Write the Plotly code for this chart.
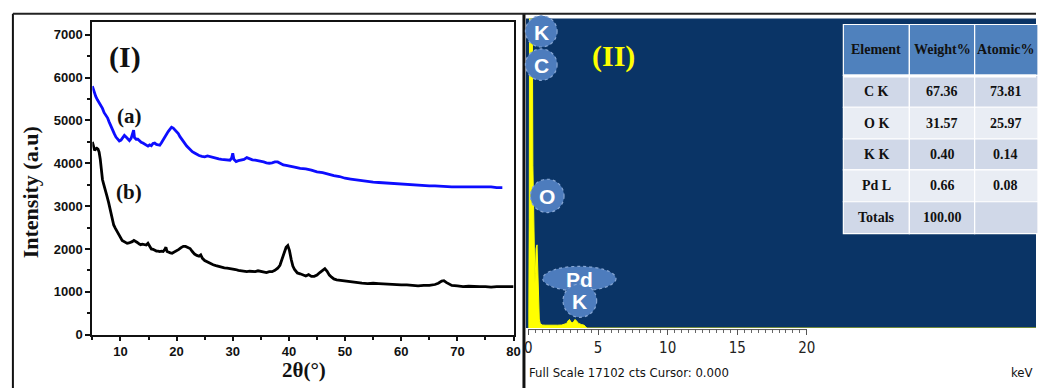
import plotly.graph_objects as go

W, H = 1043, 388

# ---------------- XRD data (panel I) ----------------
two_theta_a = [5.0, 5.3, 5.6, 5.9, 6.2, 6.5, 6.8, 7.1, 7.4, 7.7, 8.0, 8.3, 8.6, 8.9, 9.2, 9.5, 9.8,
               10.1, 10.4, 10.7, 11.0, 11.3, 11.6, 11.9, 12.2, 12.35, 12.5, 12.8, 13.1, 13.4, 13.7,
               14.0, 14.3, 14.6, 14.9, 15.2, 15.5, 15.8, 16.1, 16.4, 16.7, 17.0, 17.3, 17.6, 17.9,
               18.2, 18.5, 18.8, 19.1, 19.4, 19.7, 20.0, 20.3, 20.6, 20.9, 21.2, 21.5, 21.8, 22.1,
               22.4, 22.8, 23.2, 23.6, 24.0, 24.5, 25.0, 25.5, 26.0, 26.5, 27.0, 27.5, 28.0, 28.5,
               29.0, 29.5, 29.8, 30.0, 30.2, 30.6, 31.0, 31.5, 32.0, 32.5, 33.0, 33.5, 34.0, 34.5,
               35.0, 35.5, 36.0, 36.5, 37.0, 37.5, 38.0, 38.5, 39.0, 39.5, 40.0, 41.0, 42.0, 43.0,
               44.0, 45.0, 46.0, 47.0, 48.0, 49.0, 50.0, 51.0, 52.0, 53.0, 54.0, 55.0, 56.0, 57.0,
               58.0, 59.0, 60.0, 61.0, 62.0, 63.0, 64.0, 65.0, 66.0, 67.0, 68.0, 69.0, 70.0, 71.0,
               72.0, 73.0, 74.0, 75.0, 76.0, 77.0, 78.0]
intensity_a = [5800, 5650, 5560, 5480, 5420, 5340, 5280, 5180, 5120, 5060, 4960, 4860, 4760, 4690,
               4610, 4560, 4520, 4540, 4590, 4650, 4610, 4560, 4530, 4580, 4720, 4770, 4600, 4560,
               4560, 4520, 4490, 4470, 4440, 4410, 4400, 4430, 4410, 4460, 4470, 4440, 4430, 4420,
               4480, 4550, 4610, 4680, 4740, 4790, 4840, 4820, 4780, 4740, 4690, 4620, 4560, 4520,
               4470, 4400, 4360, 4320, 4270, 4240, 4200, 4180, 4160, 4150, 4170, 4150, 4140, 4120,
               4100, 4090, 4080, 4080, 4070, 4120, 4230, 4090, 4040, 4060, 4080, 4090, 4130, 4100,
               4080, 4070, 4060, 4040, 4030, 4010, 4000, 4010, 4030, 4030, 4000, 3960, 3950, 3940,
               3910, 3880, 3870, 3840, 3800, 3780, 3740, 3710, 3690, 3650, 3630, 3610, 3600, 3580,
               3560, 3550, 3540, 3530, 3520, 3510, 3500, 3490, 3480, 3480, 3470, 3470, 3460, 3460,
               3450, 3450, 3450, 3440, 3450, 3440, 3440, 3450, 3430, 3430]

two_theta_b = [5.0, 5.2, 5.4, 5.6, 5.8, 6.0, 6.2, 6.4, 6.6, 6.8, 7.0, 7.3, 7.6, 7.9, 8.2, 8.5, 8.8,
               9.1, 9.4, 9.7, 10.0, 10.3, 10.6, 10.9, 11.2, 11.5, 11.8, 12.1, 12.4, 12.7, 13.0, 13.3,
               13.6, 13.9, 14.2, 14.6, 14.9, 15.2, 15.5, 15.8, 16.1, 16.4, 16.7, 17.0, 17.3, 17.6,
               17.9, 18.1, 18.3, 18.6, 18.9, 19.2, 19.5, 19.8, 20.1, 20.4, 20.8, 21.2, 21.6, 22.0,
               22.4, 22.8, 23.2, 23.6, 24.0, 24.3, 24.6, 25.0, 25.5, 26.0, 26.5, 27.0, 27.5, 28.0,
               28.5, 29.0, 29.5, 30.0, 30.5, 31.0, 31.5, 32.0, 32.5, 33.0, 33.5, 34.0, 34.5, 35.0,
               35.5, 36.0, 36.5, 37.0, 37.5, 38.0, 38.4, 38.8, 39.2, 39.5, 39.8, 40.1, 40.4, 40.7,
               41.0, 41.5, 42.0, 42.5, 43.0, 43.5, 44.0, 44.5, 45.0, 45.5, 46.0, 46.4, 46.8, 47.2,
               47.6, 48.0, 48.5, 49.0, 50.0, 51.0, 52.0, 53.0, 54.0, 55.0, 56.0, 57.0, 58.0, 59.0,
               60.0, 61.0, 62.0, 63.0, 64.0, 65.0, 66.0, 66.6, 67.2, 67.6, 68.0, 68.5, 69.0, 70.0,
               71.0, 72.0, 73.0, 74.0, 75.0, 76.0, 77.0, 78.0, 79.0, 80.0]
intensity_b = [4500, 4420, 4300, 4330, 4350, 4330, 4260, 4100, 3750, 3620, 3520, 3400, 3230, 3080,
               2900, 2700, 2560, 2480, 2400, 2330, 2270, 2200, 2170, 2150, 2130, 2140, 2150, 2170,
               2200, 2180, 2150, 2120, 2100, 2110, 2100, 2090, 2130, 2060, 2000, 1990, 1960, 1950,
               1950, 1940, 1950, 1940, 1990, 2040, 1940, 1920, 1910, 1900, 1920, 1940, 1960, 1990,
               2030, 2060, 2060, 2040, 2010, 1940, 1880, 1850, 1830, 1860, 1780, 1730, 1690, 1660,
               1630, 1610, 1590, 1570, 1560, 1550, 1540, 1540, 1520, 1500, 1490, 1480, 1470, 1480,
               1470, 1470, 1490, 1480, 1460, 1450, 1470, 1470, 1500, 1550, 1620, 1760, 1920, 2040,
               2080, 1960, 1760, 1600, 1520, 1440, 1420, 1390, 1370, 1400, 1360, 1360, 1390, 1450,
               1500, 1540, 1480, 1390, 1340, 1300, 1280, 1270, 1250, 1240, 1220, 1200, 1190, 1200,
               1190, 1180, 1170, 1160, 1160, 1160, 1150, 1140, 1150, 1150, 1170, 1200, 1250, 1260,
               1220, 1180, 1150, 1140, 1120, 1130, 1120, 1120, 1120, 1110, 1120, 1120, 1120, 1120]

# ---------------- EDS spectrum (panel II) ----------------
energy_kev = [0.0, 0.05, 0.08, 0.28, 0.32, 0.38, 0.42, 0.47, 0.5, 0.55, 0.62, 0.68, 0.72, 0.78,
              0.85, 1.0, 1.2, 1.5, 1.8, 2.1, 2.4, 2.6, 2.75, 2.85, 2.95, 3.05, 3.15, 3.25, 3.35,
              3.45, 3.6, 3.8, 4.0, 4.1, 4.2, 36.5]
eds_counts = [0, 6000, 17500, 17500, 9000, 5500, 3500, 2500, 3000, 4400, 4600, 3000, 1500, 500,
              250, 170, 160, 150, 150, 160, 170, 200, 260, 400, 480, 330, 300, 350, 480,
              400, 260, 200, 160, 90, 0, 0]
eds_tick_vals = [0, 5, 10, 15, 20]

table_header = ["Element", "Weight%", "Atomic%"]
elements = ["C K", "O K", "K K", "Pd L", "Totals"]
weight_pct = ["67.36", "31.57", "0.40", "0.66", "100.00"]
atomic_pct = ["73.81", "25.97", "0.14", "0.08", ""]

bubble_labels = ["K", "C", "O", "Pd", "K"]


def px(x):
    return x / W


def py(y):
    return 1 - y / H


SERIF = "Liberation Serif"
SANS = "Liberation Sans"
NARROW = "Liberation Sans Narrow, DejaVu Sans Condensed, Liberation Sans"


def note(text, x, y, font, **kw):
    d = dict(text=text, x=px(x), y=py(y), xref="paper", yref="paper", showarrow=False,
             xanchor="center", yanchor="middle", font=font)
    d.update(kw)
    return d


fig = go.Figure()
fig.add_trace(go.Scatter(x=two_theta_a, y=intensity_a, mode="lines", xaxis="x", yaxis="y",
                         line=dict(color="#0d0dff", width=2.8), showlegend=False))
fig.add_trace(go.Scatter(x=two_theta_b, y=intensity_b, mode="lines", xaxis="x", yaxis="y",
                         line=dict(color="#000000", width=2.8), showlegend=False))
fig.add_trace(go.Scatter(x=energy_kev, y=eds_counts, mode="lines", xaxis="x2", yaxis="y2",
                         fill="tozeroy", fillcolor="#ffff00",
                         line=dict(color="#ffff00", width=1), showlegend=False))

shapes = []
annotations = []

# Right panel blue background
shapes.append(dict(type="rect", xref="paper", yref="paper", x0=px(527.5), x1=1.0, y0=py(335), y1=py(19),
                   fillcolor="#0a3466", line=dict(width=0), layer="below"))
# EDS baseline for ticks
shapes.append(dict(type="line", xref="x2", yref="paper", x0=0, x1=20, y0=py(336.5), y1=py(336.5),
                   line=dict(color="#555555", width=1)))

# Panel frames
shapes.append(dict(type="line", xref="paper", yref="paper", x0=px(9), x1=px(9), y0=-0.05, y1=py(14),
                   line=dict(color="#111111", width=2)))
shapes.append(dict(type="line", xref="paper", yref="paper", x0=px(525.5), x1=px(525.5), y0=-0.05, y1=py(14),
                   line=dict(color="#111111", width=3)))
shapes.append(dict(type="line", xref="paper", yref="paper", x0=px(9), x1=1.0, y0=py(14), y1=py(14),
                   line=dict(color="#222222", width=2)))

# Table
col_edges = [848.3, 915, 981, 1045]
row_edges = [25, 77, 109.5, 141.7, 173.5, 206, 238.5]
row_fill = ["#d0d8e8", "#e9edf4", "#d0d8e8", "#e9edf4", "#d0d8e8"]
for c in range(3):
    shapes.append(dict(type="rect", xref="paper", yref="paper", x0=px(col_edges[c]), x1=px(col_edges[c + 1]),
                       y0=py(row_edges[1]), y1=py(row_edges[0]), fillcolor="#4f81bd",
                       line=dict(color="#ffffff", width=1.2)))
    for r in range(5):
        shapes.append(dict(type="rect", xref="paper", yref="paper", x0=px(col_edges[c]),
                           x1=px(col_edges[c + 1]), y0=py(row_edges[r + 2]), y1=py(row_edges[r + 1]),
                           fillcolor=row_fill[r], line=dict(color="#ffffff", width=1.2)))
shapes.append(dict(type="line", xref="paper", yref="paper", x0=px(col_edges[0]), x1=1.0,
                   y0=py(77.5), y1=py(77.5), line=dict(color="#ffffff", width=3)))

col_centers = [881.7, 948, 1012.5]
tfont = dict(family=SERIF, size=14, color="#111111", weight="bold")
for c, t in enumerate(table_header):
    annotations.append(note(t, col_centers[c], (row_edges[0] + row_edges[1]) / 2, tfont))
for r in range(5):
    yc = (row_edges[r + 1] + row_edges[r + 2]) / 2
    for c, t in enumerate([elements[r], weight_pct[r], atomic_pct[r]]):
        if t:
            annotations.append(note(t, col_centers[c], yc, tfont))

# Element bubbles
bubbles = [(543, 32, 16, 16), (543, 66, 16, 16), (549, 200, 17, 17), (581.5, 284.5, 37, 12.5),
           (582, 307, 17, 17)]
for (cx, cy, rx, ry), lab in zip(bubbles, bubble_labels):
    shapes.append(dict(type="circle", xref="paper", yref="paper", x0=px(cx - rx), x1=px(cx + rx),
                       y0=py(cy + ry), y1=py(cy - ry), fillcolor="#4d7cbd",
                       line=dict(color="#86a6d4", width=1.2, dash="dot"), layer="above"))
    annotations.append(note(lab, cx, cy + 1, dict(family=SANS, size=21, color="#ffffff", weight="bold")))

# Panel labels and titles
annotations += [
    note("(I)", 122.7, 58, dict(family=SERIF, size=30, color="#111111", weight="bold")),
    note("(a)", 126.7, 118, dict(family=SERIF, size=21, color="#111111", weight="bold")),
    note("(b)", 126.7, 196, dict(family=SERIF, size=21, color="#111111", weight="bold")),
    note("(II)", 616, 57, dict(family=SERIF, size=30, color="#ffff00", weight="bold")),
    note("Intensity (a.u)", 27.6, 196, dict(family=SERIF, size=22, color="#111111", weight="bold"),
         textangle=-90),
    note("2θ(°)", 302.7, 378, dict(family=SERIF, size=21, color="#111111", weight="bold")),
    note("Full Scale 17102 cts Cursor: 0.000", 529, 380, dict(family=NARROW, size=13, color="#111111"),
         xanchor="left"),
    note("keV", 1042, 380, dict(family=NARROW, size=13, color="#111111"), xanchor="right"),
]

tickfont_bold = dict(family=SANS, size=13, color="#111111", weight="bold")

fig.update_layout(
    width=W, height=H, autosize=False,
    margin=dict(l=0, r=0, t=0, b=0, pad=0),
    paper_bgcolor="#ffffff",
    plot_bgcolor="rgba(0,0,0,0)",
    showlegend=False,
    xaxis=dict(domain=[px(89.3), px(515)], range=[5, 80], anchor="y",
               tickmode="array", tickvals=[10, 20, 30, 40, 50, 60, 70, 80],
               ticks="outside", ticklen=4, tickwidth=1.5, tickcolor="#111111",
               minor=dict(tickmode="array", tickvals=[5, 15, 25, 35, 45, 55, 65, 75],
                          ticks="outside", ticklen=3, tickwidth=1.5, tickcolor="#111111"),
               showline=True, linecolor="#111111", linewidth=2, mirror=True,
               showgrid=False, zeroline=False, tickfont=tickfont_bold),
    yaxis=dict(domain=[py(341.7), py(22.7)], range=[0, 7290], anchor="x",
               tickmode="array", tickvals=[0, 1000, 2000, 3000, 4000, 5000, 6000, 7000],
               ticks="outside", ticklen=5, tickwidth=1.5, tickcolor="#111111",
               minor=dict(tickmode="array", tickvals=[500, 1500, 2500, 3500, 4500, 5500, 6500],
                          ticks="outside", ticklen=3, tickwidth=1.5, tickcolor="#111111"),
               showline=True, linecolor="#111111", linewidth=2, mirror=True,
               showgrid=False, zeroline=False, tickfont=tickfont_bold),
    xaxis2=dict(domain=[px(530), 1.0], range=[0, 36.46], anchor="y2",
                tickmode="array", tickvals=eds_tick_vals, ticktext=[str(v) for v in eds_tick_vals],
                ticks="outside", ticklen=6, tickwidth=1, tickcolor="#555555",
                minor=dict(tickmode="array", tickvals=[v / 2 for v in range(0, 41)],
                           ticks="outside", ticklen=4, tickwidth=1, tickcolor="#666666"),
                showline=False, showgrid=False, zeroline=False,
                tickfont=dict(family=NARROW, size=15, color="#222222")),
    yaxis2=dict(domain=[py(335), py(19)], range=[0, 17102], anchor="x2", visible=False),
    shapes=shapes,
    annotations=annotations,
)

fig.write_html("out.html")
